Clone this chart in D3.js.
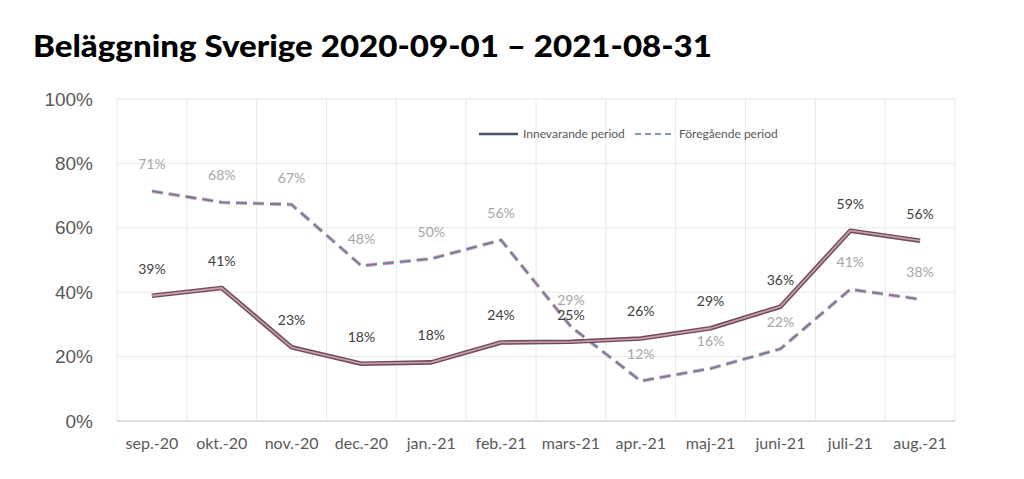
<!DOCTYPE html>
<html>
<head>
<meta charset="utf-8">
<script src="https://cdn.jsdelivr.net/npm/d3@7"></script>
<style>
  body { margin: 0; background: #fff; }
</style>
</head>
<body>
<svg id="chart" width="1024" height="479"></svg>
<script>
const months = ["sep.-20", "okt.-20", "nov.-20", "dec.-20", "jan.-21", "feb.-21",
                "mars-21", "apr.-21", "maj-21", "juni-21", "juli-21", "aug.-21"];
const current = [38.9, 41.3, 22.9, 17.8, 18.2, 24.4, 24.6, 25.6, 28.8, 35.5, 59.1, 56.0];
const previous = [71.4, 67.9, 67.2, 48.2, 50.4, 56.2, 29.3, 12.4, 16.3, 22.4, 40.9, 37.8];
const yTicks = [0, 20, 40, 60, 80, 100];

const width = 1024, height = 479;
const margin = { top: 99, right: 69, bottom: 58, left: 117 };

const svg = d3.select("#chart").attr("viewBox", [0, 0, width, height]);

const x = d3.scaleBand()
    .domain(months)
    .range([margin.left, width - margin.right]);

const y = d3.scaleLinear()
    .domain([0, 100])
    .range([height - margin.bottom, margin.top]);

// title
svg.append("text")
    .attr("x", 33)
    .attr("y", 57)
    .attr("font-family", "Lato")
    .attr("font-weight", 900)
    .attr("font-size", 31)
    .attr("fill", "#000")
    .attr("textLength", 679)
    .attr("lengthAdjust", "spacingAndGlyphs")
    .text("Beläggning Sverige 2020-09-01 – 2021-08-31");

// horizontal grid
svg.append("g")
    .selectAll("line")
    .data(yTicks)
    .join("line")
    .attr("x1", margin.left)
    .attr("x2", width - margin.right)
    .attr("y1", d => y(d))
    .attr("y2", d => y(d))
    .attr("stroke", d => d === 0 ? "#d4d4d4" : "#e8e8e8")
    .attr("stroke-width", d => d === 0 ? 1.5 : 1);

// vertical grid at band edges
const edges = months.map(m => x(m)).concat([x.range()[1]]);
svg.append("g")
    .selectAll("line")
    .data(edges)
    .join("line")
    .attr("x1", d => d)
    .attr("x2", d => d)
    .attr("y1", y(100))
    .attr("y2", y(0))
    .attr("stroke", "#e8e8e8");

// y axis labels
const yAxis = d3.axisLeft(y)
    .tickValues(yTicks)
    .tickFormat(d => d + "%")
    .tickSize(0)
    .tickPadding(24);
svg.append("g")
    .attr("transform", `translate(${margin.left},0)`)
    .call(yAxis)
    .call(g => g.select(".domain").remove())
    .call(g => g.selectAll("text")
        .attr("font-family", "Liberation Sans")
        .attr("font-size", 19)
        .attr("fill", "#595959"));

// x axis labels
const xAxis = d3.axisBottom(x).tickSize(0).tickPadding(17);
svg.append("g")
    .attr("transform", `translate(0,${y(0)})`)
    .call(xAxis)
    .call(g => g.select(".domain").remove())
    .call(g => g.selectAll("text")
        .attr("font-family", "Lato")
        .attr("font-size", 16)
        .attr("fill", "#595959"));

const line = d3.line()
    .x((d, i) => x(months[i]) + x.bandwidth() / 2)
    .y(d => y(d));

// previous period: pink-edged dashes with blue-grey core
svg.append("path")
    .attr("d", line(previous))
    .attr("fill", "none")
    .attr("stroke", "#e2a9b1")
    .attr("stroke-width", 3.8)
    .attr("stroke-dasharray", "11,6");
svg.append("path")
    .attr("d", line(previous))
    .attr("fill", "none")
    .attr("stroke", "#5f7fa9")
    .attr("stroke-width", 1.8)
    .attr("stroke-dasharray", "11,6");

// current period: dark outline with mauve core
svg.append("path")
    .attr("d", line(current))
    .attr("fill", "none")
    .attr("stroke", "#6b4a5b")
    .attr("stroke-width", 4.6)
    .attr("stroke-linejoin", "round");
svg.append("path")
    .attr("d", line(current))
    .attr("fill", "none")
    .attr("stroke", "#c99aab")
    .attr("stroke-width", 1.8)
    .attr("stroke-linejoin", "round");

// data labels
function labels(data, color) {
    svg.append("g")
        .selectAll("text")
        .data(data)
        .join("text")
        .attr("x", (d, i) => x(months[i]) + x.bandwidth() / 2)
        .attr("y", d => y(d) - 27)
        .attr("dy", "0.35em")
        .attr("text-anchor", "middle")
        .attr("font-family", "Lato")
        .attr("font-size", 14)
        .attr("fill", color)
        .text(d => Math.round(d) + "%");
}
labels(previous, "#a6a6a6");
labels(current, "#404040");

// legend
const legend = svg.append("g").attr("transform", "translate(479,134)");
legend.append("line")
    .attr("x1", 0).attr("x2", 39)
    .attr("stroke", "#44546a")
    .attr("stroke-width", 2.5);
legend.append("text")
    .attr("x", 44).attr("dy", "0.35em")
    .attr("font-family", "Lato")
    .attr("font-size", 12)
    .attr("fill", "#595959")
    .text("Innevarande period");
legend.append("line")
    .attr("x1", 156).attr("x2", 193)
    .attr("stroke", "#8a97aa")
    .attr("stroke-width", 2)
    .attr("stroke-dasharray", "6,4");
legend.append("text")
    .attr("x", 200).attr("dy", "0.35em")
    .attr("font-family", "Lato")
    .attr("font-size", 12)
    .attr("fill", "#595959")
    .text("Föregående period");
</script>
</body>
</html>
